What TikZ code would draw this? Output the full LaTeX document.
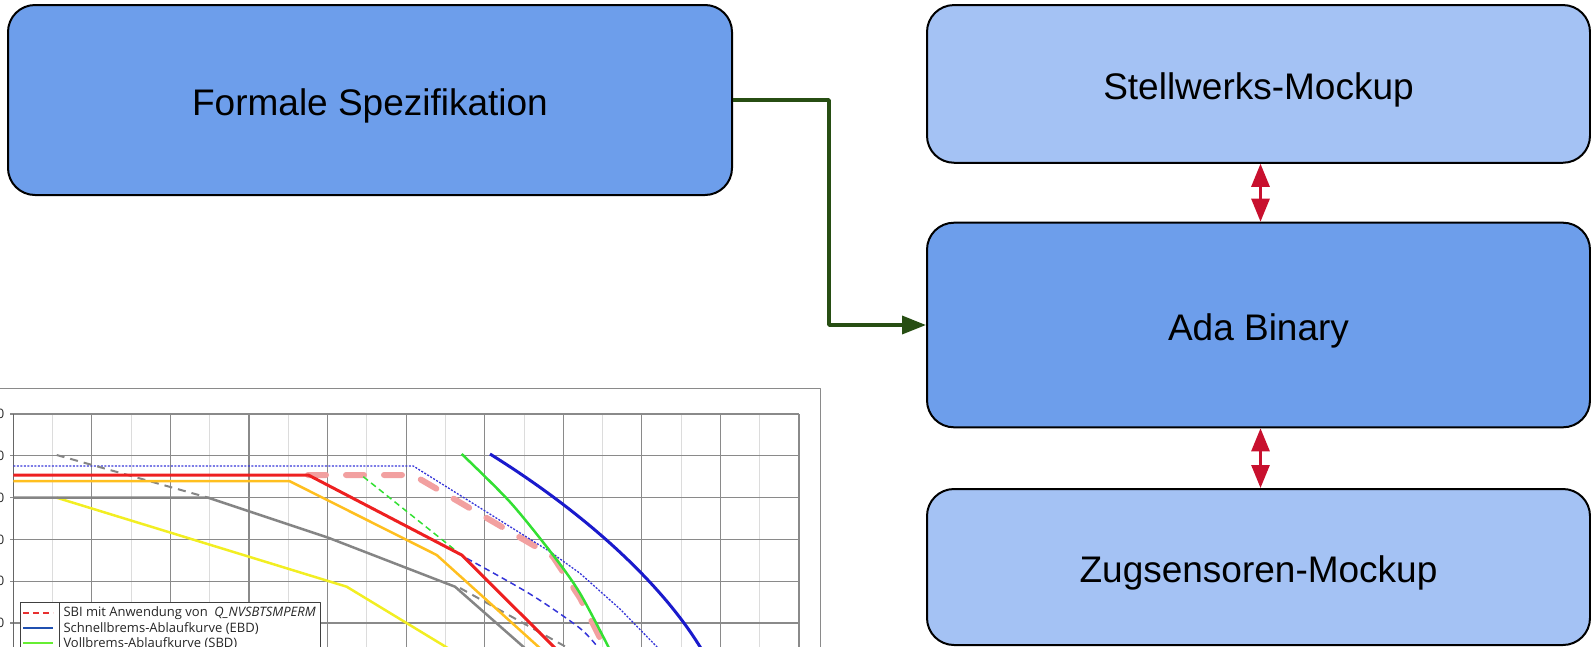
\documentclass[tikz,border=0pt]{standalone}
\usepackage{fontspec}
\setmainfont{Liberation Sans}
\newfontfamily\legendfont{Open Sans}
\usetikzlibrary{arrows.meta}

% block colours
\definecolor{boxdark}{HTML}{6D9EEB}
\definecolor{boxlight}{HTML}{A4C2F4}
\definecolor{flowgreen}{HTML}{274E13}
\definecolor{linkred}{HTML}{C8102E}
% chart colours
\definecolor{gridmajor}{HTML}{8A8A8A}
\definecolor{gridminor}{HTML}{DCDCDC}
\definecolor{cRed}{HTML}{EE2020}
\definecolor{cOrange}{HTML}{FFBF1F}
\definecolor{cYellow}{HTML}{F2EE22}
\definecolor{cGray}{HTML}{858585}
\definecolor{cBlue}{HTML}{1A1ACC}
\definecolor{cBlueDot}{HTML}{3535D8}
\definecolor{cGreen}{HTML}{33E033}
\definecolor{cPink}{HTML}{F2A0A0}
\definecolor{cLegBlue}{HTML}{2050B0}
\definecolor{cLegGreen}{HTML}{66EE33}
\definecolor{cLegRed}{HTML}{E83030}

\tikzset{
  block/.style={draw=black, line width=2pt, rounded corners=27pt, inner sep=0pt,
    text=black, font=\fontsize{37}{44}\selectfont, text height=38.5pt, text depth=8pt},
  flowarrow/.style={draw=flowgreen, line width=3.5pt,
    -{Triangle[length=24pt,width=18pt]}},
  linkarrow/.style={draw=linkred, line width=2.8pt,
    {Triangle[length=23pt,width=18pt]}-{Triangle[length=23pt,width=18pt]}},
  majorline/.style={draw=gridmajor, line width=1.2pt},
  minorline/.style={draw=gridminor, line width=1pt},
  legendframe/.style={draw=black!75, line width=1pt},
  legendtext/.style={font=\legendfont\fontsize{13}{15}\selectfont, text=black!85,
    inner sep=0pt, anchor=west},
  ticklabel/.style={font=\legendfont\fontsize{13}{15}\selectfont, text=black!85,
    inner sep=0pt, anchor=east},
}

\begin{document}
\begin{tikzpicture}[x=1pt, y=-1pt, line join=round]
\useasboundingbox (0,0) rectangle (1591,646);

% ---------- braking curve chart ----------
\begin{scope}
\clip (0,388) rectangle (1591,646);
% outer frame
\draw[draw=gridmajor, line width=1.5pt] (-5,388.3) -- (820.7,388.3) -- (820.7,660);
% minor verticals
\foreach \k in {0,...,9}
  \draw[minorline] ({13.3+78.57*\k+39.285},414) -- ({13.3+78.57*\k+39.285},660);
% major verticals
\foreach \k in {1,...,10}
  \draw[majorline] ({13.3+78.57*\k},414) -- ({13.3+78.57*\k},660);
% horizontals with ticks and labels
\foreach \j in {0,...,5} {
  \draw[majorline] (10,{414+41.8*\j}) -- (799,{414+41.8*\j});
  \node[ticklabel] at (4.5,{414+41.8*\j}) {0};
}
% y axis
\draw[draw=black!60, line width=1.5pt] (13.3,414) -- (13.3,660);

% SBI with Q_NVSBTSMPERM
\draw[cPink, line width=6pt, line cap=round, dash pattern=on 18pt off 20pt]
  (308,475) -- (413,475) -- (553,556.7) -- (580,598) -- (606,650);
% dotted blue
\draw[cBlueDot, line width=1.3pt, dash pattern=on 2pt off 1.5pt]
  (13.3,466) -- (413.3,466) -- (550,551.7) -- (580,573.3) -- (620,609) -- (660,650);
% dashed blue
\draw[cBlueDot, line width=1.5pt, dash pattern=on 6pt off 4pt]
  plot[smooth] coordinates {(466.7,558.3) (530,594) (580,628.3) (600,650)};
% dashed gray
\draw[cGray, line width=2pt, dash pattern=on 8pt off 6pt] (56.7,455) -- (208.3,497.7);
\draw[cGray, line width=2pt, dash pattern=on 8pt off 6pt] (460,588) -- (568,648);
% dashed green
\draw[cGreen, line width=1.5pt, dash pattern=on 6pt off 4pt] (363.3,476.7) -- (455,550);
% yellow
\draw[cYellow, line width=2.5pt] (56.7,497.7) -- (346.7,586.7) -- (451,650);
% gray
\draw[cGray, line width=2.5pt] (13.3,497.7) -- (208.3,497.7) -- (327.7,537.5)
  -- (455,586.7) -- (527,650);
% orange
\draw[cOrange, line width=2.5pt] (13.3,481) -- (289.3,481) -- (436.7,555) -- (542,650);
% red
\draw[cRed, line width=3pt] (13.3,475) -- (308.3,475) -- (461.7,555) -- (557,650);
% green solid
\draw[cGreen, line width=2.5pt]
  plot[smooth] coordinates {(461.7,454) (510,502) (553,555) (580,593.3) (610,650)};
% blue solid
\draw[cBlue, line width=3pt]
  (490,454) .. controls (580,510) and (660,580) .. (702,650);

% legend
\draw[legendframe, fill=white] (20,602.3) rectangle (320,660);
\draw[legendframe] (59.3,602.3) -- (59.3,660);
\draw[cLegRed, line width=2pt, dash pattern=on 6pt off 4pt] (23.3,613.3) -- (53.3,613.3);
\draw[cLegBlue, line width=2pt] (23.3,628.3) -- (53.3,628.3);
\draw[cLegGreen, line width=2pt] (23.3,643.3) -- (53.3,643.3);
\node[legendtext] (leg1) at (63.3,613.3) {SBI mit Anwendung von\enspace\textit{Q\_NVSBTSMPERM}};
\node[legendtext] (leg2) at (63.3,628.3) {Schnellbrems-Ablaufkurve (EBD)};
\node[legendtext] (leg3) at (63.3,643.3) {Vollbrems-Ablaufkurve (SBD)};
\end{scope}

% ---------- blocks ----------
\node[block, fill=boxdark, minimum width=724pt, minimum height=190pt] (F) at (370,100)
  {Formale Spezifikation};
\node[block, fill=boxlight, minimum width=663pt, minimum height=157.7pt] (S) at (1258.5,83.9)
  {Stellwerks-Mockup};
\node[block, fill=boxdark, minimum width=663pt, minimum height=204.6pt] (A) at (1258.5,325)
  {Ada Binary};
\node[block, fill=boxlight, minimum width=663pt, minimum height=156pt] (Z) at (1258.5,567)
  {Zugsensoren-Mockup};

% ---------- connectors ----------
\coordinate (bend) at (829,200);
\draw[flowarrow] (F.east) -- (F.east -| bend) |- (A.west);
\draw[linkarrow] ([xshift=2pt]S.south) -- ([xshift=2pt]A.north);
\draw[linkarrow] ([xshift=2pt]A.south) -- ([xshift=2pt]Z.north);
\end{tikzpicture}
\end{document}
